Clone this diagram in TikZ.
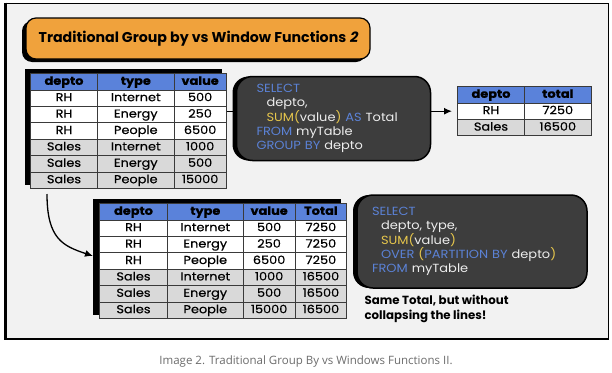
\documentclass[tikz,border=0pt]{standalone}
\usepackage{fontspec}
\setmainfont{Poppins}
\newfontfamily\medfont{Poppins}[FakeBold=0.5, FakeStretch=1.12]
\newfontfamily\codefont{Poppins}[FakeStretch=1.1]
\newfontfamily\capfont{Open Sans}
\usepackage{xcolor}
\usetikzlibrary{matrix,arrows.meta,shadows,backgrounds}

\definecolor{bgcol}{HTML}{F2F2F2}
\definecolor{orangec}{HTML}{F0A23C}
\definecolor{hdblue}{HTML}{5A82DA}
\definecolor{rowgray}{HTML}{D9D9D9}
\definecolor{gridcol}{HTML}{3A3A3A}
\definecolor{codebg}{HTML}{3D3D3D}
\definecolor{kwblue}{HTML}{5B82D6}
\definecolor{fnyel}{HTML}{E6C64C}
\definecolor{codetxt}{HTML}{EDEDED}
\definecolor{captxt}{HTML}{6B6B6B}

\newcommand{\sqlkw}[1]{\textcolor{kwblue}{#1}}
\newcommand{\sqlfn}[1]{\textcolor{fnyel}{#1}}
\newcommand{\cellfont}{\medfont\fontsize{11.5}{12}\selectfont}

\tikzset{
	tbl/.style={matrix of nodes, inner sep=0pt, anchor=north west,
		column sep=-0.8pt, row sep=-0.8pt,
		nodes={draw=gridcol, line width=.8pt, fill=white, inner sep=0pt, outer sep=0pt,
			minimum height=16.4pt, text height=8.5pt, text depth=2.5pt, font=\cellfont},
		row 1/.style={nodes={fill=hdblue, font=\cellfont\bfseries}}},
	titlebox/.style={fill=orangec, draw=black, line width=1.2pt, rounded corners=10pt,
		minimum width=344pt, minimum height=41pt, font=\fontsize{14.2}{17}\selectfont\bfseries,
		drop shadow={shadow xshift=-4pt, shadow yshift=-3pt, fill=black, opacity=1}},
	codebox/.style={fill=codebg, draw=black, line width=1.5pt, rounded corners=16pt,
		align=left, text=codetxt, font=\codefont\fontsize{11.8}{14.3}\selectfont,
		drop shadow={shadow xshift=-4pt, shadow yshift=0pt, fill=black, opacity=1}},
	conn/.style={line width=1.3pt},
	tip/.style={-{Latex[length=8pt,width=7pt]}}
}

\begin{document}
\begin{tikzpicture}[x=1pt,y=-1pt]
	\useasboundingbox (0,0) rectangle (612,372);
	
	% panel
	\begin{scope}[on background layer]
		\fill[bgcol] (5,3) rectangle (608,339);
		\draw[line width=1pt] (5,3) rectangle (608,339);
		\draw[line width=3pt] (5,2.5) -- (5,339.5);
		\draw[line width=1.8pt] (5,339) -- (608,339);
	\end{scope}
	
	\node[titlebox] (title) at (198,38.5) {Traditional Group by vs Window Functions {\addfontfeature{FakeSlant=0.2}2}};
	
	% source table
	\matrix (tab1) [tbl,
		column 1/.style={nodes={minimum width=66.8pt}},
		column 2/.style={nodes={minimum width=76.8pt}},
		column 3/.style={nodes={minimum width=51.8pt}},
		row 5/.style={nodes={fill=rowgray}},
		row 6/.style={nodes={fill=rowgray}},
		row 7/.style={nodes={fill=rowgray}}] at (30,73) {
		depto & type & value \\
		RH & Internet & 500 \\
		RH & Energy & 250 \\
		RH & People & 6500 \\
		Sales & Internet & 1000 \\
		Sales & Energy & 500 \\
		Sales & People & 15000 \\
	};
	
	% grouped result
	\matrix (res) [tbl,
		column 1/.style={nodes={minimum width=66.8pt}},
		column 2/.style={nodes={minimum width=66.8pt}},
		row 3/.style={nodes={fill=rowgray}}] at (457,86) {
		depto & total \\
		RH & 7250 \\
		Sales & 16500 \\
	};
	
	% window result
	\matrix (tab2) [tbl,
		column 1/.style={nodes={minimum width=67.8pt}},
		column 2/.style={nodes={minimum width=75.8pt}},
		column 3/.style={nodes={minimum width=51.8pt}},
		column 4/.style={nodes={minimum width=51.8pt}},
		row 5/.style={nodes={fill=rowgray}},
		row 6/.style={nodes={fill=rowgray}},
		row 7/.style={nodes={fill=rowgray}}] at (99,203) {
		depto & type & value & Total \\
		RH & Internet & 500 & 7250 \\
		RH & Energy & 250 & 7250 \\
		RH & People & 6500 & 7250 \\
		Sales & Internet & 1000 & 16500 \\
		Sales & Energy & 500 & 16500 \\
		Sales & People & 15000 & 16500 \\
	};
	
	\begin{scope}[on background layer]
		\fill ([shift={(-5,-4)}]tab1.north west) rectangle ([shift={(-5,-4)}]tab1.south east);
		\fill ([shift={(-6,-4)}]tab2.north west) rectangle ([shift={(-6,-4)}]tab2.south east);
	\end{scope}
	
	% queries
	\node[codebox, minimum height=84pt, text width=154pt, inner xsep=20pt] (sql1) at (333.5,118.5) {
		\sqlkw{SELECT}\\
		\hspace*{10pt}depto,\\
		\hspace*{10pt}\sqlfn{SUM(}value\sqlfn{)} \sqlkw{AS} Total\\
		\sqlkw{FROM} myTable\\
		\sqlkw{GROUP BY} depto};
	\node[codebox, minimum height=93pt, text width=200pt, inner xsep=15pt] (sql2) at (472,241.5) {
		\sqlkw{SELECT}\\
		\hspace*{9pt}depto, type,\\
		\hspace*{9pt}\sqlfn{SUM(}value\sqlfn{)}\\
		\hspace*{9pt}\sqlkw{OVER} \sqlfn{(}\sqlkw{PARTITION BY} depto\sqlfn{)}\\
		\sqlkw{FROM} myTable};
	
	\node[anchor=north west, align=left, font=\fontsize{11.8}{15}\selectfont\bfseries] (note) at (361,292)
		{Same Total, but without\\collapsing the lines!};
	
	% arrows
	\draw[conn] (tab1.east |- res.west) -- (sql1.west |- res.west);
	\draw[conn,tip,shorten >=5pt] (sql1.east |- res.west) -- (res.west);
	\draw[conn,tip] ([xshift=17pt,yshift=-5pt]tab1.south west)
		.. controls +(0,45) and +(-30,-10) .. ([xshift=-6pt,yshift=5pt]tab2.west);
	
	\node[text=captxt, font=\capfont\fontsize{11.5}{13}\selectfont] (caption) at (306,362)
		{Image 2. Traditional Group By vs Windows Functions II.};
\end{tikzpicture}
\end{document}
